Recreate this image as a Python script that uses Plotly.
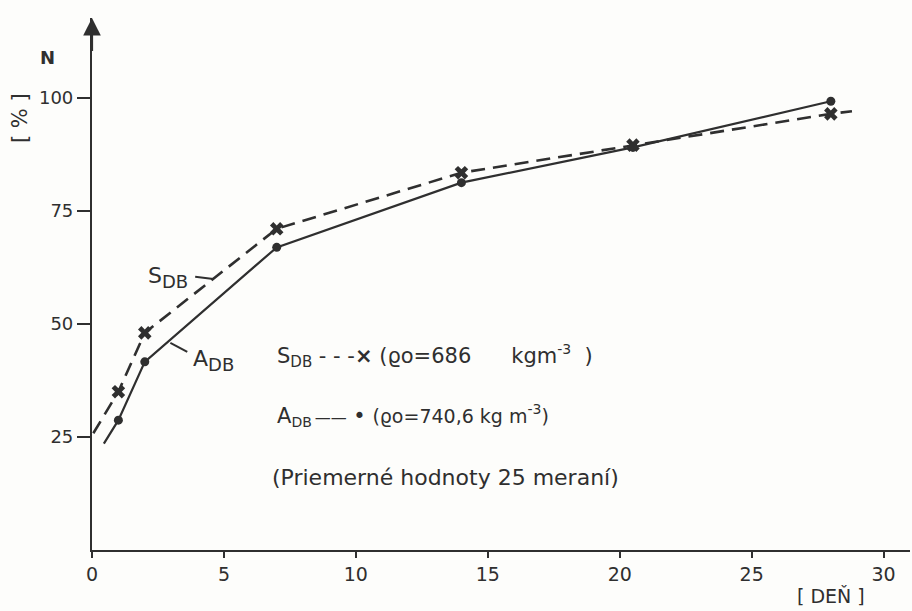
import plotly.graph_objects as go

# Measured days and mean values N [%] (average of 25 measurements)
days = [1, 2, 7, 14, 20.5, 28]
s_db = [35, 48, 71, 83.4, 89.5, 96.4]    # S_DB, rho_o = 686 kg/m3
a_db = [28.7, 41.6, 66.9, 81.2, 89, 99.2]  # A_DB, rho_o = 740.6 kg/m3

# Line runs extended slightly beyond the measured points
s_line_x = [0.05] + days + [28.8]
s_line_y = [25.8] + s_db + [97]
a_line_x = [0.45] + days
a_line_y = [23.5] + a_db

x_ticks = [0, 5, 10, 15, 20, 25, 30]
y_ticks = [25, 50, 75, 100]

INK = "#2f2f2f"
FONT = "DejaVu Sans"

fig = go.Figure()

fig.add_trace(go.Scatter(
    x=s_line_x, y=s_line_y, mode="lines",
    line=dict(color=INK, width=2.6, dash="14px,8px"),
    hoverinfo="skip", showlegend=False,
))
fig.add_trace(go.Scatter(
    x=a_line_x, y=a_line_y, mode="lines",
    line=dict(color=INK, width=2.2),
    hoverinfo="skip", showlegend=False,
))
fig.add_trace(go.Scatter(
    x=days, y=s_db, mode="markers",
    marker=dict(symbol="x", size=12, color=INK, line=dict(width=0)),
    showlegend=False,
))
fig.add_trace(go.Scatter(
    x=days, y=a_db, mode="markers",
    marker=dict(symbol="circle", size=9, color=INK, line=dict(width=0)),
    showlegend=False,
))

# Leader lines from the curve labels to the curves
fig.add_shape(type="line", x0=3.91, y0=60.4, x1=4.6, y1=59.9,
              line=dict(color=INK, width=2))
fig.add_shape(type="line", x0=2.97, y0=45.8, x1=3.61, y1=43.8,
              line=dict(color=INK, width=2))


def sub(s, size=18):
    return f"<sub><span style='font-size:{size}px'>{s}</span></sub>"


def sup(s, size=14):
    return f"<sup><span style='font-size:{size}px'>{s}</span></sup>"


def sized(s, size):
    return f"<span style='font-size:{size}px'>{s}</span>"


ann_font = dict(family=FONT, size=22, color=INK)
key_font = dict(family=FONT, size=21, color=INK)
nb = "\u00a0"
data_annotations = [
    dict(x=2.03, y=60.3, text="S" + sub("DB"), xanchor="left", yanchor="middle"),
    dict(x=3.76, y=41.8, text="A" + sub("DB"), xanchor="left", yanchor="middle"),
    dict(x=6.94, y=42.9, font=key_font,
         text=(f"S{sub('DB', 15)}{nb}-{nb}-{nb}-<b>×</b>{nb}(ϱo=686{nb*6}"
               f"kgm{sup('-3')}{nb}{nb})"),
         xanchor="left", yanchor="middle"),
    dict(x=6.94, y=29.8, font=key_font,
         text=(f"A{sub('DB', 14)}{sized(nb, 9)}{sized('——', 16)}{nb}•{nb}"
               f"{sized('(ϱo=740,6 kg m', 19)}{sup('-3')}{sized(')', 19)}"),
         xanchor="left", yanchor="middle"),
    dict(x=6.75, y=16.0, text="(Priemerné hodnoty 25 meraní)",
         xanchor="left", yanchor="middle"),
]
for a in data_annotations:
    a.setdefault("font", ann_font)
    a.update(xref="x", yref="y", showarrow=False)
    fig.add_annotation(**a)

# Axis titles placed outside the plotting area
paper_annotations = [
    dict(x=-0.055, y=0.925, text="<b>N</b>",
         font=dict(family=FONT, size=18, color=INK)),
    dict(x=-0.088, y=0.812, text=f"[{nb}%{nb}]", textangle=-90,
         font=dict(family=FONT, size=21, color=INK)),
    dict(x=0.903, y=-0.086, text=f"[{nb}DEŇ{nb}]",
         font=dict(family=FONT, size=19, color=INK)),
]
for a in paper_annotations:
    a.update(xref="paper", yref="paper", showarrow=False,
             xanchor="center", yanchor="middle")
    fig.add_annotation(**a)

# Arrow tip on the vertical axis
fig.add_annotation(x=0, y=117.6, ax=0, ay=110, xref="x", yref="y",
                   axref="x", ayref="y", text="", showarrow=True,
                   arrowhead=2, arrowsize=1.6, arrowwidth=2.2,
                   arrowcolor=INK)

fig.update_layout(
    width=912, height=611,
    margin=dict(l=92, r=2, t=18, b=61),
    paper_bgcolor="#fdfdfb", plot_bgcolor="#fdfdfb",
    font=dict(family=FONT, size=19, color=INK),
    showlegend=False,
)
fig.update_xaxes(
    range=[0, 31], tickvals=x_ticks, ticks="outside", ticklen=6,
    tickwidth=2, tickcolor=INK, showline=True, linecolor=INK, linewidth=2,
    showgrid=False, zeroline=False, tickfont=dict(size=19),
)
fig.update_yaxes(
    range=[0, 117.6], tickvals=y_ticks, ticks="outside", ticklen=13,
    tickwidth=2, tickcolor=INK, showline=True, linecolor=INK, linewidth=2.2,
    showgrid=False, zeroline=False, tickfont=dict(size=18), ticklabelstandoff=0,
)

fig.write_html("out.html")
